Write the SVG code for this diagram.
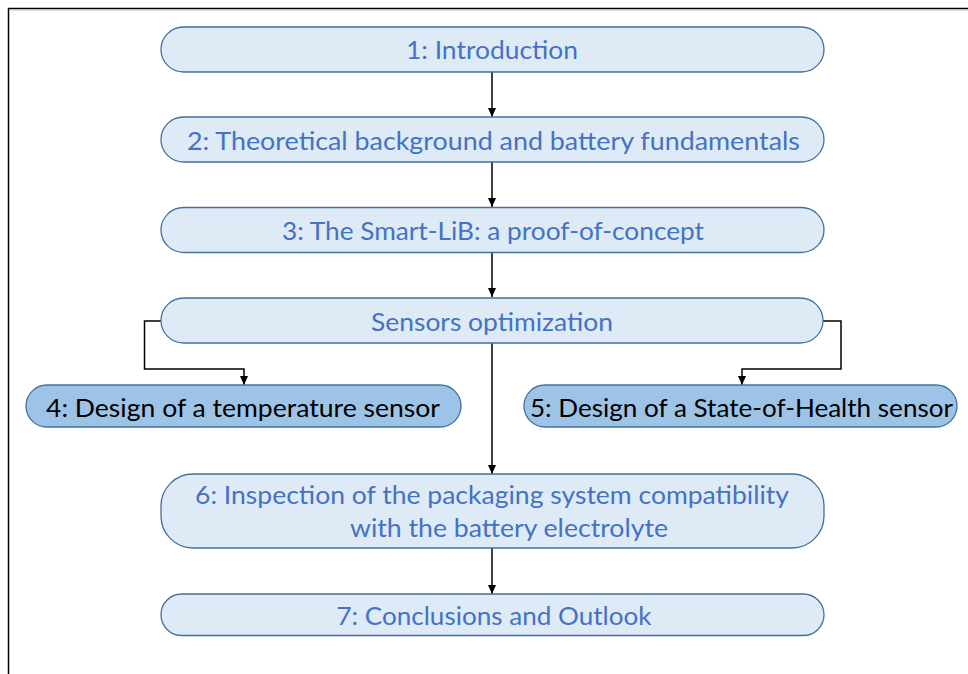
<svg xmlns="http://www.w3.org/2000/svg" width="968" height="674" viewBox="0 0 968 674">
  <style>
    .node rect { stroke: #41719C; stroke-width: 1.3; }
    .light rect { fill: #DEEAF6; }
    .dark rect { fill: #9DC3E6; }
    .node text { font-family: Lato, "Open Sans", "Liberation Sans", sans-serif; font-size: 25px; text-anchor: middle; }
    .light text { fill: #4472C4; }
    .dark text { fill: #000000; }
    .conn path { fill: none; stroke: #000000; stroke-width: 1.5; }
  </style>
  <defs>
    <marker id="ah" markerWidth="9" markerHeight="8" viewBox="0 0 9 8" refX="9" refY="4" orient="auto" markerUnits="userSpaceOnUse">
      <path d="M0,0 L9,4 L0,8 z" fill="#000000"/>
    </marker>
  </defs>
  <rect x="0" y="0" width="968" height="674" fill="#FFFFFF"/>
  <g id="frame">
    <path d="M8.5,674 V8.5 H968" fill="none" stroke="#000000" stroke-width="1.5"/>
    <path d="M10,10 H968" fill="none" stroke="#BBBBBB" stroke-width="1"/>
  </g>

  <g id="connectors" class="conn">
    <path d="M492,72 V117" marker-end="url(#ah)"/>
    <path d="M492,162 V207" marker-end="url(#ah)"/>
    <path d="M492,253 V297" marker-end="url(#ah)"/>
    <path d="M492,343 V474" marker-end="url(#ah)"/>
    <path d="M492,548 V594" marker-end="url(#ah)"/>
    <path d="M161,321 H144.5 V369 H244 V385" marker-end="url(#ah)"/>
    <path d="M823,321 H841 V369 H742 V385" marker-end="url(#ah)"/>
  </g>

  <g id="n1" class="node light">
    <rect x="161" y="27" width="663" height="45" rx="22.5"/>
    <text x="492" y="59" textLength="172" lengthAdjust="spacingAndGlyphs">1: Introduction</text>
  </g>
  <g id="n2" class="node light">
    <rect x="161" y="117" width="663" height="45" rx="22.5"/>
    <text x="493.5" y="150" textLength="613" lengthAdjust="spacingAndGlyphs">2: Theoretical background and battery fundamentals</text>
  </g>
  <g id="n3" class="node light">
    <rect x="161" y="207.5" width="663" height="45" rx="22.5"/>
    <text x="493" y="240" textLength="422" lengthAdjust="spacingAndGlyphs">3: The Smart-LiB: a proof-of-concept</text>
  </g>
  <g id="ns" class="node light">
    <rect x="161" y="298" width="662" height="45" rx="22.5"/>
    <text x="492" y="330.5" textLength="242" lengthAdjust="spacingAndGlyphs">Sensors optimization</text>
  </g>
  <g id="n4" class="node dark">
    <rect x="26" y="385" width="435" height="42" rx="21"/>
    <text x="243" y="416.5" textLength="394" lengthAdjust="spacingAndGlyphs">4: Design of a temperature sensor</text>
  </g>
  <g id="n5" class="node dark">
    <rect x="524" y="385" width="433" height="42" rx="21"/>
    <text x="741.5" y="416.5" textLength="423" lengthAdjust="spacingAndGlyphs">5: Design of a State-of-Health sensor</text>
  </g>
  <g id="n6" class="node light">
    <rect x="161" y="474" width="663" height="74" rx="32"/>
    <text x="492" y="503.5" textLength="594" lengthAdjust="spacingAndGlyphs">6: Inspection of the packaging system compatibility</text>
    <text x="509" y="537" textLength="318" lengthAdjust="spacingAndGlyphs">with the battery electrolyte</text>
  </g>
  <g id="n7" class="node light">
    <rect x="161" y="594" width="663" height="41.5" rx="20.75"/>
    <text x="494" y="624.5" textLength="315" lengthAdjust="spacingAndGlyphs">7: Conclusions and Outlook</text>
  </g>
</svg>
